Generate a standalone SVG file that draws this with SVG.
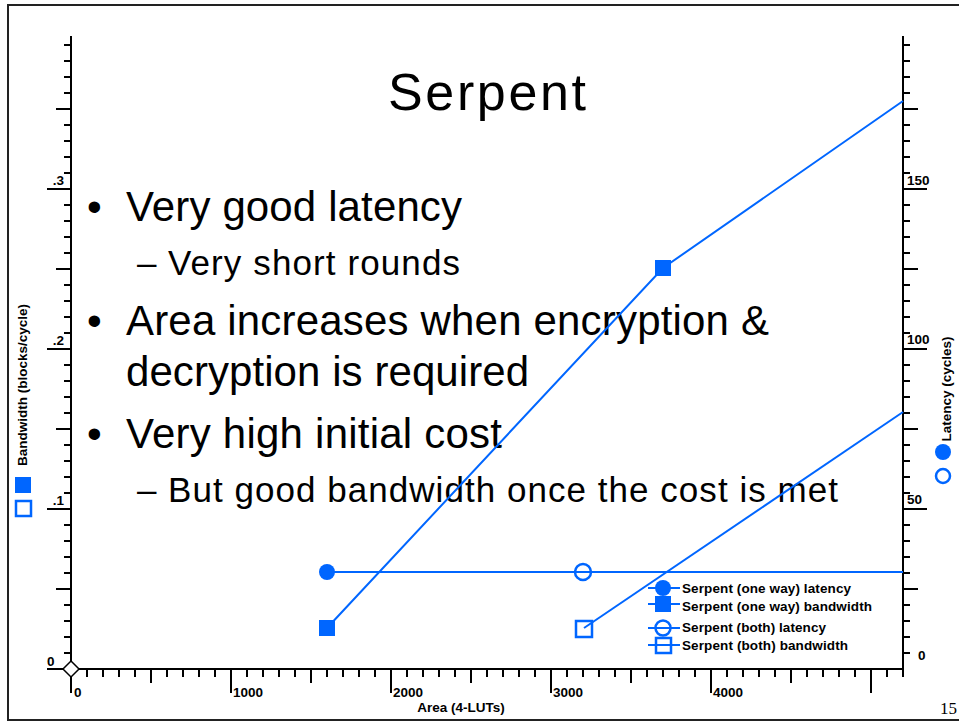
<svg xmlns="http://www.w3.org/2000/svg" width="959" height="723" viewBox="0 0 959 723">
  <style>
    .slide { font-family: "Liberation Sans", Arial, sans-serif; fill: #000; }
    .ax { stroke: #000; stroke-width: 2; fill: none; }
    .num { font-family: "Liberation Sans", Arial, sans-serif; font-weight: bold; font-size: 13.5px; fill: #000; }
    .ttl { font-family: "Liberation Sans", Arial, sans-serif; font-weight: bold; font-size: 13.5px; fill: #000; }
    .leg { font-family: "Liberation Sans", Arial, sans-serif; font-weight: bold; font-size: 13.5px; fill: #000; }
    .ser { stroke: #0066ff; stroke-width: 2; fill: none; }
    .fill { fill: #0066ff; stroke: none; }
    .hollow { fill: none; stroke: #0066ff; stroke-width: 2.5; }
  </style>

  <rect width="959" height="723" fill="#fff"/>
  <!-- slide frame (right edge runs past the page) -->
  <rect x="8" y="5" width="970" height="715" fill="none" stroke="#222" stroke-width="2"/>

  <!-- slide text -->
  <g id="title">
    <text class="slide" x="388" y="110" font-size="52" textLength="198" lengthAdjust="spacing">Serpent</text>
  </g>
  <g id="bullets">
    <text class="slide" x="87" y="221" font-size="42">•</text>
    <text class="slide" x="126" y="221" font-size="42" textLength="336" lengthAdjust="spacing">Very good latency</text>
    <text class="slide" x="137" y="275" font-size="35">–</text>
    <text class="slide" x="168" y="275" font-size="35" textLength="292" lengthAdjust="spacing">Very short rounds</text>
    <text class="slide" x="87" y="335" font-size="42">•</text>
    <text class="slide" x="126" y="335" font-size="42" textLength="643" lengthAdjust="spacing">Area increases when encryption &amp;</text>
    <text class="slide" x="126" y="386" font-size="42" textLength="403" lengthAdjust="spacing">decryption is required</text>
    <text class="slide" x="87" y="448" font-size="42">•</text>
    <text class="slide" x="126" y="448" font-size="42" textLength="376" lengthAdjust="spacing">Very high initial cost</text>
    <text class="slide" x="137" y="502" font-size="35">–</text>
    <text class="slide" x="168" y="502" font-size="35" textLength="670" lengthAdjust="spacing">But good bandwidth once the cost is met</text>
  </g>

  <!-- left axis: bandwidth -->
  <g id="axis-left">
    <path class="ax" d="M71 36 V693"/>
    <path class="ax" d="M64 653H71M64 637H71M64 621H71M64 605H71M64 573H71M64 557H71M64 541H71M64 525H71M64 493H71M64 477H71M64 461H71M64 445H71M64 413H71M64 397H71M64 381H71M64 365H71M64 333H71M64 317H71M64 301H71M64 285H71M64 253H71M64 237H71M64 221H71M64 205H71M64 173H71M64 157H71M64 141H71M64 125H71M64 93H71M64 77H71M64 61H71M64 45H71"/>
    <path class="ax" d="M56 589H71M56 429H71M56 269H71M56 109H71"/>
    <path class="ax" d="M47 669H71M47 509H71M47 349H71M47 189H71"/>
    <text class="num" x="64" y="185" text-anchor="end">.3</text>
    <text class="num" x="64" y="345" text-anchor="end">.2</text>
    <text class="num" x="64" y="505" text-anchor="end">.1</text>
    <text class="num" x="47" y="666">0</text>
    <text class="ttl" transform="translate(27 385) rotate(-90)" text-anchor="middle">Bandwidth (blocks/cycle)</text>
    <rect class="fill" x="15" y="477" width="16" height="16"/>
    <rect class="hollow" x="16" y="501" width="15" height="15"/>
  </g>

  <!-- right axis: latency -->
  <g id="axis-right">
    <path class="ax" d="M903 36 V669"/>
    <path class="ax" d="M903 653H910M903 637H910M903 621H910M903 605H910M903 573H910M903 557H910M903 541H910M903 525H910M903 493H910M903 477H910M903 461H910M903 445H910M903 413H910M903 397H910M903 381H910M903 365H910M903 333H910M903 317H910M903 301H910M903 285H910M903 253H910M903 237H910M903 221H910M903 205H910M903 173H910M903 157H910M903 141H910M903 125H910M903 93H910M903 77H910M903 61H910M903 45H910"/>
    <path class="ax" d="M903 589H918M903 429H918M903 269H918M903 109H918"/>
    <path class="ax" d="M903 509H927M903 349H927M903 189H927"/>
    <text class="num" x="907" y="185">150</text>
    <text class="num" x="907" y="344">100</text>
    <text class="num" x="907" y="504">50</text>
    <text class="num" x="918" y="660">0</text>
    <text class="ttl" transform="translate(951 389) rotate(-90)" text-anchor="middle">Latency (cycles)</text>
    <circle class="fill" cx="943" cy="452" r="8"/>
    <circle class="hollow" cx="943" cy="476" r="7"/>
  </g>

  <!-- bottom axis: area -->
  <g id="axis-bottom">
    <path class="ax" d="M47 669 H903"/>
    <path class="ax" d="M87 669V677M103 669V677M119 669V677M135 669V677M167 669V677M183 669V677M199 669V677M215 669V677M247 669V677M263 669V677M279 669V677M295 669V677M327 669V677M343 669V677M359 669V677M375 669V677M407 669V677M423 669V677M439 669V677M455 669V677M487 669V677M503 669V677M519 669V677M535 669V677M567 669V677M583 669V677M599 669V677M615 669V677M647 669V677M663 669V677M679 669V677M695 669V677M727 669V677M743 669V677M759 669V677M775 669V677M807 669V677M823 669V677M839 669V677M855 669V677M887 669V677M903 669V677"/>
    <path class="ax" d="M151 669V683M311 669V683M471 669V683M631 669V683M791 669V683"/>
    <path class="ax" d="M231 669V693M391 669V693M551 669V693M711 669V693M871 669V693"/>
    <text class="num" x="74" y="697">0</text>
    <text class="num" x="233" y="697">1000</text>
    <text class="num" x="393" y="697">2000</text>
    <text class="num" x="553" y="697">3000</text>
    <text class="num" x="713" y="697">4000</text>
    <text class="ttl" x="461" y="712" text-anchor="middle">Area (4-LUTs)</text>
    <polygon points="71,661 79,669 71,677 63,669" fill="#fff" stroke="#000" stroke-width="1.5"/>
  </g>

  <!-- series connectors -->
  <g id="connectors">
    <path class="ser" d="M327 572 H903"/>
    <path class="ser" d="M327 628 L663 268 L903 101"/>
    <path class="ser" d="M584 628 L903 412"/>
  </g>

  <!-- series markers -->
  <g id="one-way-latency">
    <circle class="fill" cx="327" cy="572" r="8"/>
  </g>
  <g id="one-way-bandwidth">
    <rect class="fill" x="319" y="620" width="16" height="16"/>
    <rect class="fill" x="655" y="260" width="16" height="16"/>
  </g>
  <g id="both-latency">
    <circle class="hollow" cx="583" cy="572" r="8"/>
  </g>
  <g id="both-bandwidth">
    <rect class="hollow" x="576" y="621" width="16" height="16"/>
  </g>

  <!-- legend -->
  <g id="legend">
    <path class="ser" d="M648 588H680M648 604H680M648 628H680M648 645H680"/>
    <circle class="fill" cx="663" cy="588" r="8"/>
    <rect class="fill" x="655" y="596" width="16" height="16"/>
    <circle class="hollow" cx="663" cy="628" r="7.5"/>
    <rect class="hollow" x="656" y="638" width="15" height="15"/>
    <text class="leg" x="682" y="593" textLength="169" lengthAdjust="spacing">Serpent (one way) latency</text>
    <text class="leg" x="682" y="611" textLength="190" lengthAdjust="spacing">Serpent (one way) bandwidth</text>
    <text class="leg" x="682" y="632" textLength="144" lengthAdjust="spacing">Serpent (both) latency</text>
    <text class="leg" x="682" y="650" textLength="166" lengthAdjust="spacing">Serpent (both) bandwidth</text>
  </g>

  <!-- page number -->
  <text x="940" y="714" font-family="'Liberation Serif', 'Times New Roman', serif" font-size="17" fill="#000">15</text>
</svg>
